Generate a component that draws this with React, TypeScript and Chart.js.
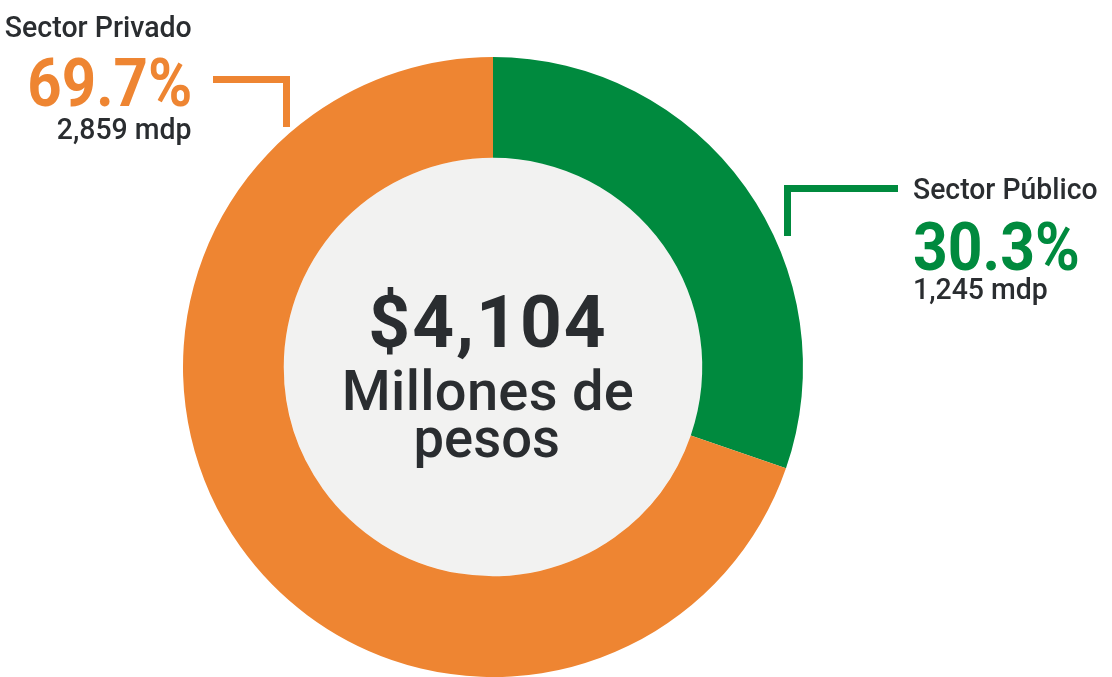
import React, { useEffect, useRef } from "react";
import { Chart, registerables } from "chart.js";

Chart.register(...registerables);

const categories = ["Sector Público", "Sector Privado"];
const shares = [30.3, 69.7];
const amounts = ["1,245 mdp", "2,859 mdp"];
const shareLabels = ["30.3%", "69.7%"];
const colors = ["#008A3E", "#EE8532"];
const totalLabel = "$4,104";
const totalUnitLines = ["Millones de", "pesos"];

const TEXT = "#2A2D30";
const FONT = "Roboto, 'Liberation Sans', sans-serif";

const innerFill = {
  id: "innerFill",
  beforeDatasetsDraw(chart: any) {
    const arc = chart.getDatasetMeta(0).data[0];
    if (!arc) return;
    const { x, y, innerRadius } = arc.getProps(["x", "y", "innerRadius"], true);
    const ctx = chart.ctx;
    ctx.save();
    ctx.fillStyle = "#F2F2F1";
    ctx.beginPath();
    ctx.arc(x, y, innerRadius, 0, Math.PI * 2);
    ctx.fill();
    ctx.restore();
  },
};

type TProps = {
  text: string;
  size: number;
  weight?: number;
  color?: string;
  baseline: number;
  x: number;
  align: "left" | "right" | "center";
  scale?: number;
  spacing?: number;
};

function Txt({ text, size, weight = 500, color = TEXT, baseline, x, align, scale = 1, spacing = 0 }: TProps) {
  const top = baseline - 0.8415 * size;
  const style: React.CSSProperties = {
    position: "absolute",
    top,
    fontFamily: FONT,
    fontSize: size,
    fontWeight: weight,
    color,
    lineHeight: 1,
    whiteSpace: "nowrap",
    letterSpacing: spacing,
  };
  if (align === "left") {
    style.left = x;
    style.transform = `scaleX(${scale})`;
    style.transformOrigin = "left center";
  } else if (align === "right") {
    style.right = 1112 - x;
    style.transform = `scaleX(${scale})`;
    style.transformOrigin = "right center";
  } else {
    style.left = x;
    style.transform = `translateX(-50%) scaleX(${scale})`;
    style.transformOrigin = "left center";
  }
  return <div style={style}>{text}</div>;
}

export default function App() {
  const ref = useRef<HTMLCanvasElement | null>(null);

  useEffect(() => {
    document.body.style.margin = "0";
    if (!ref.current) return;
    const chart = new Chart(ref.current, {
      type: "doughnut",
      data: {
        labels: categories,
        datasets: [
          {
            data: shares,
            backgroundColor: colors,
            borderWidth: 0,
            hoverOffset: 0,
          },
        ],
      },
      options: {
        responsive: false,
        animation: false,
        cutout: "67.5%",
        rotation: 0,
        layout: { padding: { left: 183, right: 309, top: 57, bottom: 0 } },
        plugins: {
          legend: { display: false },
          tooltip: { enabled: false },
        },
        events: [],
      },
      plugins: [innerFill],
    });
    return () => chart.destroy();
  }, []);

  const bar = (left: number, top: number, w: number, h: number, c: string) => (
    <div style={{ position: "absolute", left, top, width: w, height: h, background: c }} />
  );

  return (
    <div style={{ position: "relative", width: 1112, height: 677, overflow: "hidden", background: "#fff" }}>
      <canvas ref={ref} width={1112} height={677} style={{ position: "absolute", left: 0, top: 0 }} />
      {/* Private sector leader */}
      {bar(213, 76, 77, 7, colors[1])}
      {bar(283, 76, 7, 51, colors[1])}
      {/* Public sector leader */}
      {bar(784, 185, 114, 7, colors[0])}
      {bar(784, 185, 7, 51, colors[0])}

      <Txt text={categories[1]} size={30} baseline={37} x={192} align="right" scale={0.95} />
      <Txt text={shareLabels[1]} size={67} weight={700} color={colors[1]} baseline={106} x={192} align="right" scale={0.895} />
      <Txt text={amounts[1]} size={29} baseline={139} x={192} align="right" scale={0.98} />

      <Txt text={categories[0]} size={30} baseline={199} x={913} align="left" scale={0.945} />
      <Txt text={shareLabels[0]} size={67} weight={700} color={colors[0]} baseline={270} x={913} align="left" scale={0.905} />
      <Txt text={amounts[0]} size={29} baseline={299} x={913} align="left" scale={0.98} />

      <Txt text={totalLabel} size={73} weight={700} baseline={347} x={488} align="center" spacing={2} />
      <Txt text={totalUnitLines[0]} size={56} baseline={410} x={488} align="center" scale={1} spacing={0.3} />
      <Txt text={totalUnitLines[1]} size={56} baseline={457} x={489} align="center" scale={0.97} />
    </div>
  );
}
